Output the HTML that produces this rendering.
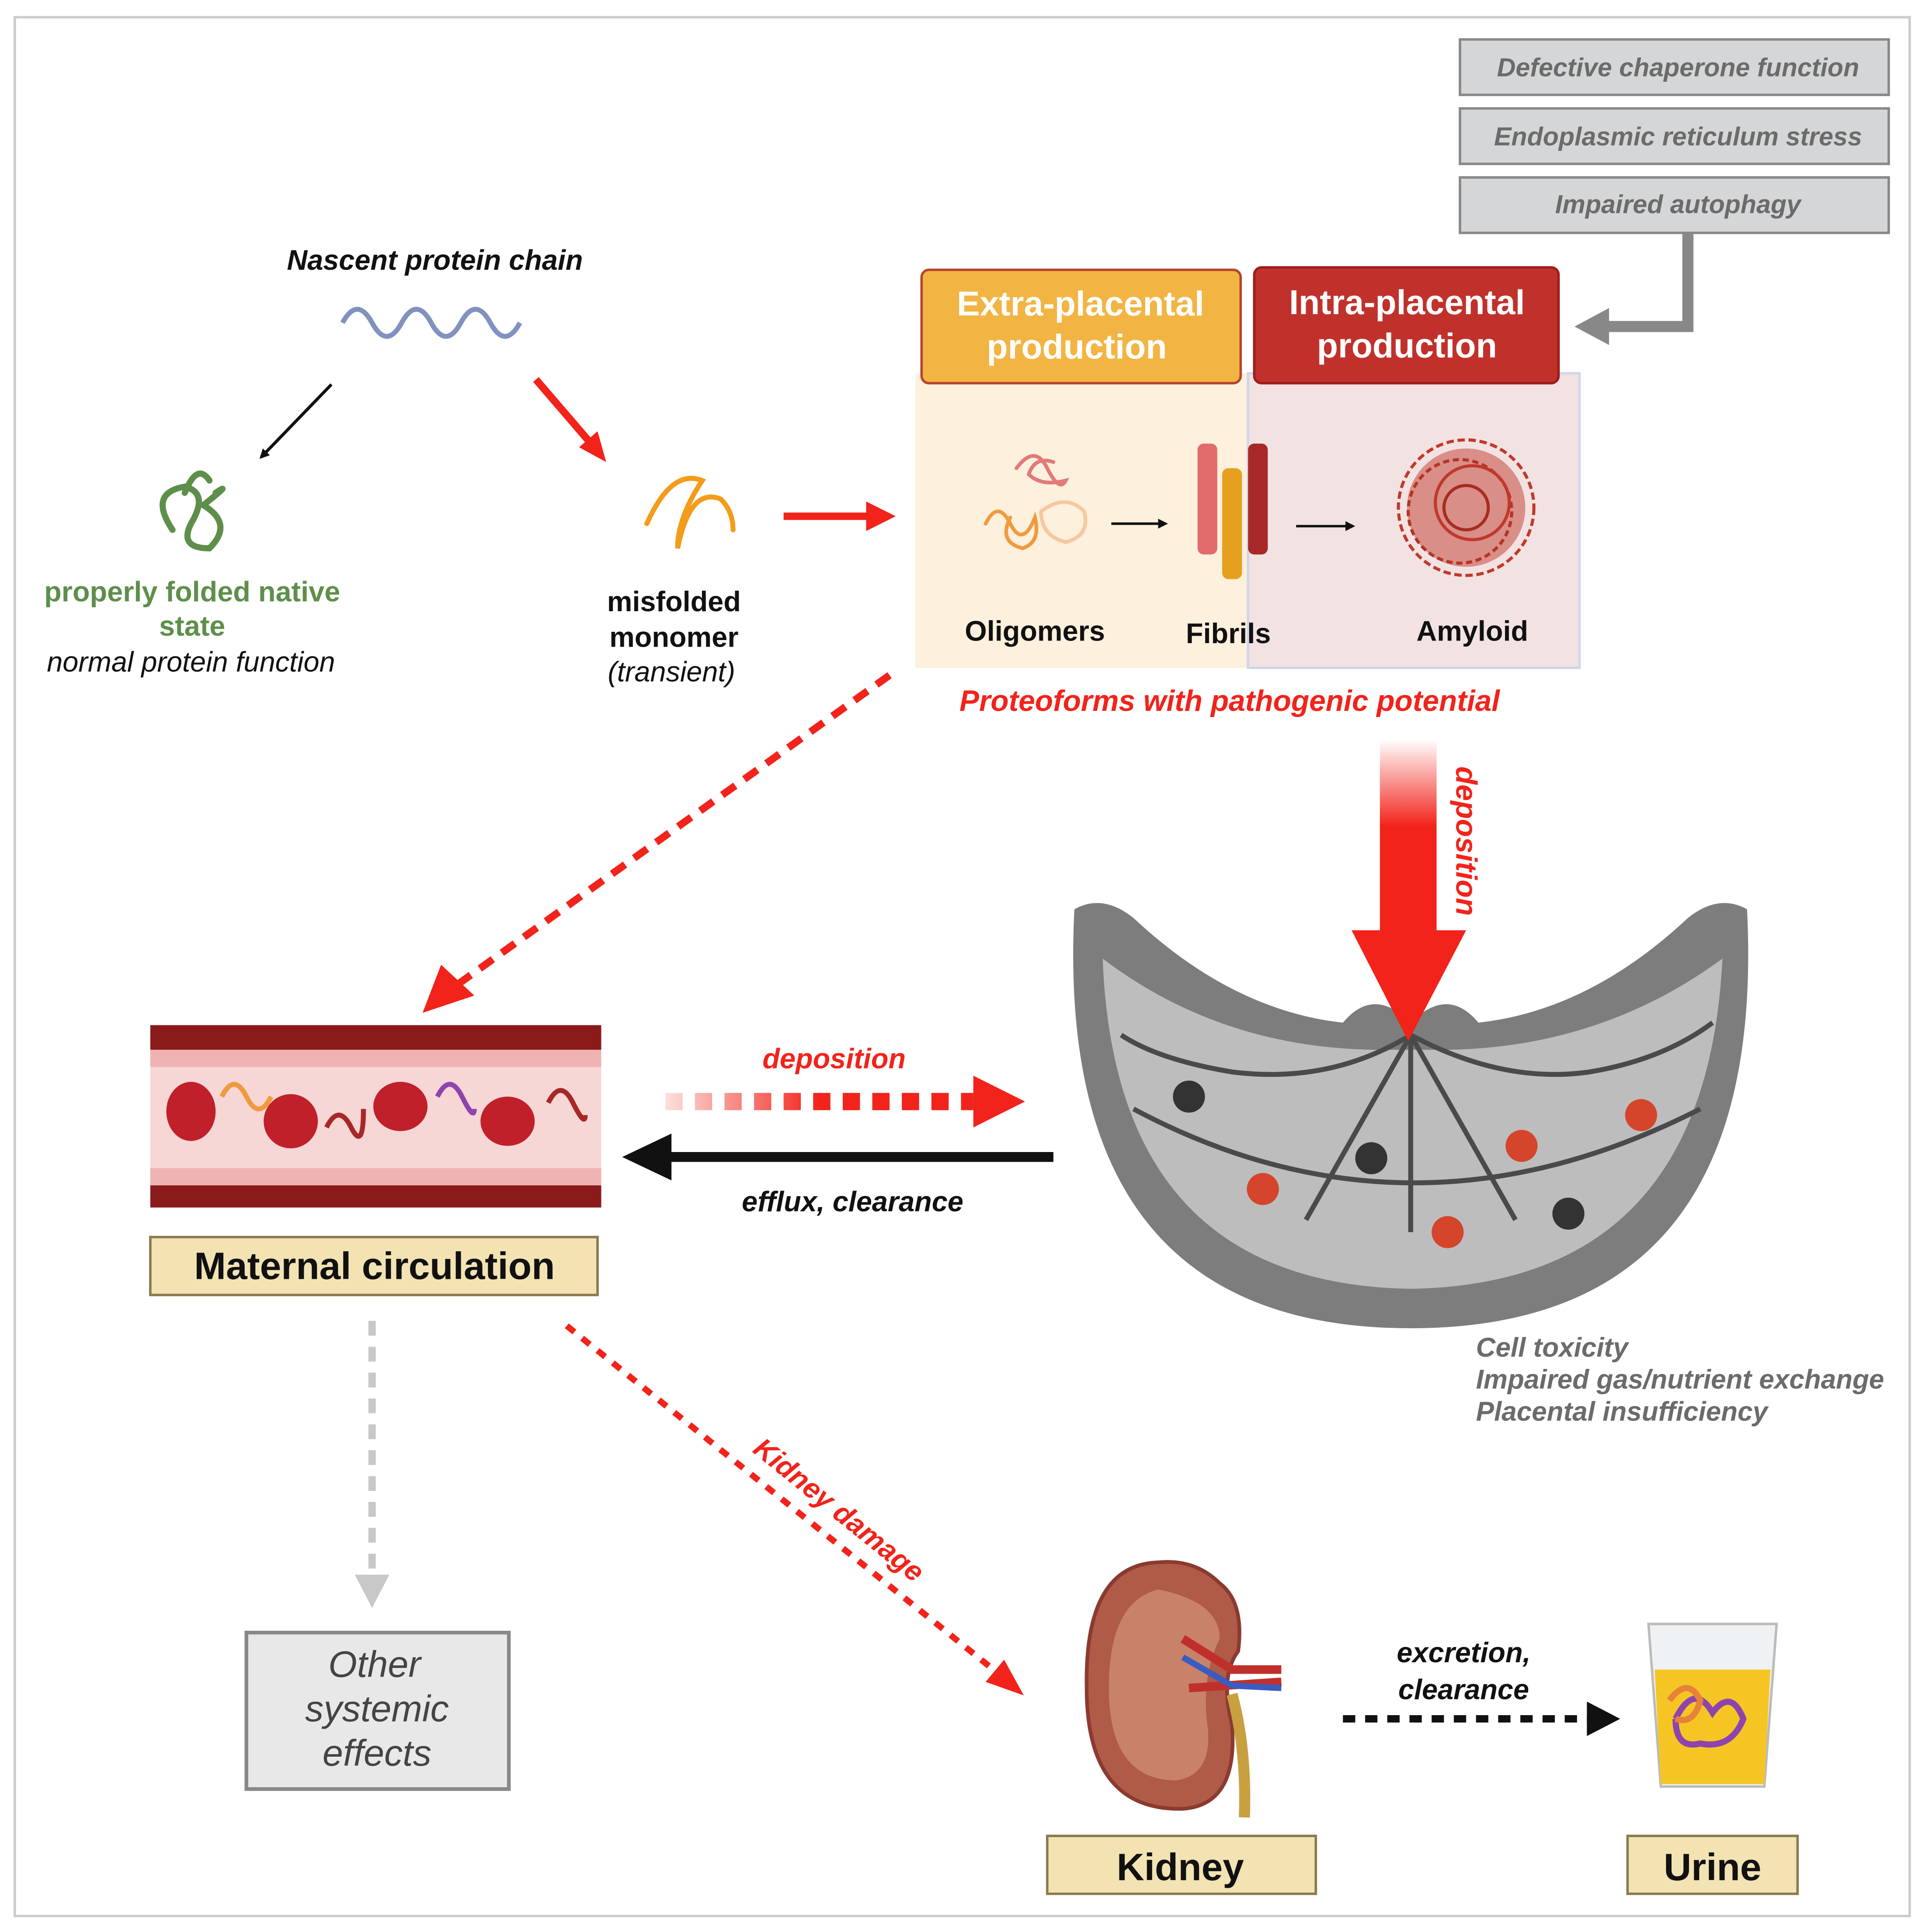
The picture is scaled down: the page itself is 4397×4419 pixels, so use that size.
<!DOCTYPE html>
<html><head><meta charset="utf-8"><style>html,body{margin:0;padding:0;background:#fff}svg{display:block}text{font-family:"Liberation Sans",sans-serif}</style></head>
<body>
<svg width="4397" height="4419" viewBox="0 0 1560 1568" preserveAspectRatio="none" xmlns="http://www.w3.org/2000/svg">
<defs>
<linearGradient id="gv" x1="0" y1="0" x2="0" y2="1"><stop offset="0" stop-color="#fff"/><stop offset="0.45" stop-color="#f2231a"/><stop offset="1" stop-color="#f2231a"/></linearGradient>
<linearGradient id="gh" gradientUnits="userSpaceOnUse" x1="540" y1="0" x2="790" y2="0"><stop offset="0" stop-color="#fde0de"/><stop offset="0.5" stop-color="#f2231a"/><stop offset="1" stop-color="#f2231a"/></linearGradient>
<marker id="ab" markerWidth="8" markerHeight="8" refX="6" refY="4" orient="auto" markerUnits="userSpaceOnUse"><path d="M0,0 L8,4 L0,8z" fill="#111"/></marker>
</defs>
<rect x="12" y="14" width="1538" height="1541" fill="#fff" stroke="#ccc" stroke-width="2"/>

<g fill="#d4d6d8" stroke="#888" stroke-width="2">
<rect x="1185" y="32" width="348" height="45"/><rect x="1185" y="88" width="348" height="45"/><rect x="1185" y="144" width="348" height="45"/></g>
<g fill="#6b6b6b" font-size="21" font-style="italic" font-weight="bold" text-anchor="middle">
<text x="1362" y="62">Defective chaperone function</text><text x="1362" y="118">Endoplasmic reticulum stress</text><text x="1362" y="173">Impaired autophagy</text></g>
<path d="M1370,189 V265 H1300" fill="none" stroke="#888" stroke-width="9"/>
<path d="M1278,265 L1306,250 L1306,280z" fill="#888"/>

<rect x="743" y="303" width="270" height="239" fill="#fdf0dc"/>
<rect x="1013" y="303" width="269" height="239" fill="#f3e2e2" stroke="#cfd6ea" stroke-width="2"/>
<rect x="748" y="219" width="259" height="92" rx="6" fill="#f2b544" stroke="#b5452e" stroke-width="2"/>
<rect x="1018" y="217" width="247" height="94" rx="6" fill="#c1312c" stroke="#9b1f1b" stroke-width="2"/>
<g fill="#fff" font-size="28" font-weight="bold" text-anchor="middle">
<text x="877" y="256">Extra-placental</text><text x="874" y="291">production</text>
<text x="1142" y="255">Intra-placental</text><text x="1142" y="290">production</text></g>
<g fill="none" stroke-width="3" stroke-linecap="round">
<path d="M825,380 q15,-20 25,0 t15,10 q-20,5 -30,-5 q5,-15 20,-10" stroke="#e27a7a"/>
<path d="M800,425 q10,-20 20,0 t20,-5 q5,20 -10,25 q-20,-5 -10,-25" stroke="#f09a40"/>
<path d="M845,415 q20,-15 35,0 q5,20 -15,25 q-20,-5 -20,-25" stroke="#f5c8a0"/>
</g>
<rect x="972" y="360" width="16" height="90" rx="5" fill="#e26b6b"/>
<rect x="992" y="380" width="16" height="90" rx="5" fill="#e6a020"/>
<rect x="1013" y="360" width="16" height="90" rx="5" fill="#a82828"/>
<g fill="none" stroke-width="2.5">
<circle cx="1190" cy="412" r="55" stroke="#c0392b" stroke-dasharray="6,3"/>
<circle cx="1185" cy="415" r="42" stroke="#a8301f" stroke-dasharray="5,3"/>
<circle cx="1195" cy="408" r="30" stroke="#c0392b"/>
<circle cx="1190" cy="412" r="18" stroke="#8f1f14"/>
</g>
<circle cx="1190" cy="412" r="48" fill="#c0392b" opacity="0.5"/>
<line x1="902" y1="425" x2="946" y2="425" stroke="#111" stroke-width="2" marker-end="url(#ab)"/>
<line x1="1052" y1="427" x2="1098" y2="427" stroke="#111" stroke-width="2" marker-end="url(#ab)"/>
<g font-size="23" font-weight="bold" fill="#111" text-anchor="middle">
<text x="840" y="520">Oligomers</text><text x="997" y="522">Fibrils</text><text x="1195" y="520">Amyloid</text></g>
<text x="998" y="577" font-size="24" font-weight="bold" font-style="italic" fill="#f2231a" text-anchor="middle">Proteoforms with pathogenic potential</text>

<text x="353" y="219" font-size="23" font-weight="bold" font-style="italic" fill="#111" text-anchor="middle">Nascent protein chain</text>
<path d="M278,262 q12,-22 24,0 t24,0 t24,0 t24,0 t24,0 t24,0" fill="none" stroke="#8092bd" stroke-width="4"/>
<line x1="269" y1="312" x2="212" y2="371" stroke="#111" stroke-width="2.5" marker-end="url(#ab)"/>
<line x1="435" y1="308" x2="478" y2="358" stroke="#f2231a" stroke-width="6"/>
<path d="M492,375 L470,363 L485,350z" fill="#f2231a"/>
<path d="M140,430 q-20,-30 10,-35 q20,5 5,30 q-10,20 15,20 q20,-20 -5,-35 q25,-20 10,-10 M150,400 q10,-25 20,-10" fill="none" stroke="#5e8f4a" stroke-width="5" stroke-linecap="round"/>
<g font-size="23" font-weight="bold" fill="#5e8f4a" text-anchor="middle"><text x="156" y="488">properly folded native</text><text x="156" y="516">state</text></g>
<text x="155" y="545" font-size="23" font-style="italic" fill="#111" text-anchor="middle">normal protein function</text>
<path d="M525,425 q20,-45 45,-35 q-20,30 -20,55 q10,-50 35,-40 q10,10 10,25" fill="none" stroke="#f39c1a" stroke-width="4" stroke-linecap="round"/>
<g font-size="23" font-weight="bold" fill="#111" text-anchor="middle"><text x="547" y="496">misfolded</text><text x="547" y="525">monomer</text></g>
<text x="545" y="553" font-size="23" font-style="italic" fill="#111" text-anchor="middle">(transient)</text>
<line x1="636" y1="419" x2="705" y2="419" stroke="#f2231a" stroke-width="6"/>
<path d="M727,419 L703,407 L703,431z" fill="#f2231a"/>

<line x1="722" y1="548" x2="370" y2="800" stroke="#f2231a" stroke-width="6" stroke-dasharray="13,9"/>
<path d="M343,822 L358,783 L385,808z" fill="#f2231a"/>

<!-- placenta -->
<path d="M872,738 Q855,1078 1145,1078 Q1435,1078 1418,738 Q1395,725 1370,745 Q1290,820 1200,830 Q1175,800 1145,830 Q1115,800 1090,830 Q1000,820 920,745 Q895,725 872,738z" fill="#7d7d7d"/>
<path d="M895,778 Q905,1042 1145,1046 Q1385,1042 1398,778 Q1300,850 1175,852 L1115,852 Q990,850 895,778z" fill="#bdbdbd"/>
<g fill="none" stroke="#4a4a4a" stroke-width="4">
<path d="M1145,840 Q1080,880 1000,870 Q940,860 910,840"/><path d="M1145,840 Q1220,880 1290,870 Q1350,860 1390,830"/>
<path d="M1145,840 V1000"/><path d="M1145,840 Q1100,920 1060,990"/><path d="M1145,840 Q1190,920 1230,990"/>
<path d="M920,900 Q1145,1020 1380,900"/></g>
<g><circle cx="965" cy="890" r="13" fill="#333"/><circle cx="1113" cy="940" r="13" fill="#333"/><circle cx="1273" cy="985" r="13" fill="#333"/>
<circle cx="1025" cy="965" r="13" fill="#d4452b"/><circle cx="1235" cy="930" r="13" fill="#d4452b"/><circle cx="1175" cy="1000" r="13" fill="#d4452b"/><circle cx="1332" cy="905" r="13" fill="#d4452b"/></g>
<rect x="1120" y="600" width="46" height="157" fill="url(#gv)"/>
<path d="M1097,755 L1190,755 L1143,845z" fill="#f2231a"/>
<text x="0" y="0" transform="translate(1182,622) rotate(90)" font-size="24" font-weight="bold" font-style="italic" fill="#f2231a">deposition</text>

<rect x="122" y="832" width="366" height="148" fill="#f7d6d6"/>
<rect x="122" y="832" width="366" height="20" fill="#8b1a1a"/>
<rect x="122" y="962" width="366" height="18" fill="#8b1a1a"/>
<rect x="122" y="852" width="366" height="14" fill="#efb3b3"/><rect x="122" y="948" width="366" height="14" fill="#efb3b3"/>
<g fill="#c0202a"><ellipse cx="155" cy="902" rx="20" ry="24"/><ellipse cx="236" cy="910" rx="22" ry="22"/><ellipse cx="325" cy="898" rx="22" ry="20"/><ellipse cx="412" cy="910" rx="22" ry="20"/></g>
<g fill="none" stroke-width="4"><path d="M180,890 q10,-20 20,0 t20,0" stroke="#f09a40"/><path d="M265,915 q10,-20 20,0 t10,-15" stroke="#a82828"/><path d="M355,890 q10,-20 20,0 t10,10" stroke="#8e44ad"/><path d="M445,895 q10,-20 20,0 t10,10" stroke="#a82828"/></g>
<text x="677" y="867" font-size="23" font-weight="bold" font-style="italic" fill="#f2231a" text-anchor="middle">deposition</text>
<rect x="540" y="887" width="250" height="14" fill="url(#gh)"/>
<g fill="#fff"><rect x="554" y="885" width="10" height="18"/><rect x="578" y="885" width="10" height="18"/><rect x="602" y="885" width="10" height="18"/><rect x="626" y="885" width="10" height="18"/><rect x="650" y="885" width="10" height="18"/><rect x="674" y="885" width="10" height="18"/><rect x="698" y="885" width="10" height="18"/><rect x="722" y="885" width="10" height="18"/><rect x="746" y="885" width="10" height="18"/><rect x="770" y="885" width="10" height="18"/></g>
<path d="M832,894 L790,873 L790,915z" fill="#f2231a"/>
<line x1="855" y1="939" x2="540" y2="939" stroke="#111" stroke-width="8"/>
<path d="M505,939 L545,920 L545,958z" fill="#111"/>
<text x="692" y="983" font-size="23" font-weight="bold" font-style="italic" fill="#111" text-anchor="middle">efflux, clearance</text>
<rect x="122" y="1004" width="363" height="47" fill="#f3e3b3" stroke="#8a7a50" stroke-width="2"/>
<text x="304" y="1038" font-size="31" font-weight="bold" fill="#111" text-anchor="middle">Maternal circulation</text>

<g font-size="22" font-weight="bold" font-style="italic" fill="#6b6b6b"><text x="1198" y="1101">Cell toxicity</text><text x="1198" y="1127">Impaired gas/nutrient exchange</text><text x="1198" y="1153">Placental insufficiency</text></g>

<line x1="302" y1="1072" x2="302" y2="1280" stroke="#c8c8c8" stroke-width="6" stroke-dasharray="12,9"/>
<path d="M288,1278 L316,1278 L302,1305z" fill="#c8c8c8"/>
<rect x="200" y="1325" width="213" height="127" fill="#e8e8e8" stroke="#888" stroke-width="3"/>
<g font-size="30" font-style="italic" fill="#444" text-anchor="middle"><text x="304" y="1361">Other</text><text x="306" y="1397">systemic</text><text x="306" y="1433">effects</text></g>

<line x1="460" y1="1076" x2="810" y2="1358" stroke="#f2231a" stroke-width="5" stroke-dasharray="8,8"/>
<path d="M831,1376 L800,1365 L815,1347z" fill="#f2231a"/>
<text transform="translate(610,1178) rotate(39)" font-size="23" font-weight="bold" font-style="italic" fill="#f2231a">Kidney damage</text>

<path d="M940,1268 Q880,1270 882,1370 Q882,1470 960,1468 Q1005,1465 1000,1400 Q990,1360 1005,1340 Q1010,1300 990,1285 Q970,1265 940,1268z" fill="#b05a48" stroke="#8b3a30" stroke-width="3"/>
<path d="M940,1290 Q900,1300 900,1370 Q900,1445 955,1445 Q985,1440 980,1400 Q975,1360 990,1330 Q990,1300 940,1290z" fill="#c9826a"/>
<path d="M960,1330 L1000,1355 L1040,1355 M965,1370 L1040,1365" stroke="#c0302a" stroke-width="7" fill="none"/>
<path d="M960,1345 L1000,1368 L1040,1370" stroke="#3a5cc0" stroke-width="5" fill="none"/>
<path d="M1000,1375 Q1012,1420 1010,1475" stroke="#c9a040" stroke-width="9" fill="none"/>
<line x1="1090" y1="1395" x2="1290" y2="1395" stroke="#111" stroke-width="6" stroke-dasharray="10,8"/>
<path d="M1315,1395 L1288,1381 L1288,1409z" fill="#111"/>
<g font-size="23" font-weight="bold" font-style="italic" fill="#111" text-anchor="middle"><text x="1188" y="1349">excretion,</text><text x="1188" y="1379">clearance</text></g>
<path d="M1338,1318 L1442,1318 L1432,1450 L1348,1450z" fill="#eef2f4" stroke="#bbb" stroke-width="2"/>
<path d="M1343,1355 L1437,1355 L1432,1448 L1348,1448z" fill="#f5c623"/>
<path d="M1360,1395 q15,-30 30,-5 q15,-20 25,5 q-10,25 -35,20 q-20,5 -20,-20" fill="none" stroke="#8e44ad" stroke-width="5"/>
<path d="M1355,1380 q15,-20 25,0 q-5,20 -20,15" fill="none" stroke="#e6823a" stroke-width="5"/>
<rect x="850" y="1490" width="218" height="47" fill="#f3e3b3" stroke="#8a7a50" stroke-width="2"/>
<rect x="1321" y="1490" width="138" height="47" fill="#f3e3b3" stroke="#8a7a50" stroke-width="2"/>
<g font-size="31" font-weight="bold" fill="#111" text-anchor="middle"><text x="958" y="1526">Kidney</text><text x="1390" y="1526">Urine</text></g>
</svg>
</body></html>
